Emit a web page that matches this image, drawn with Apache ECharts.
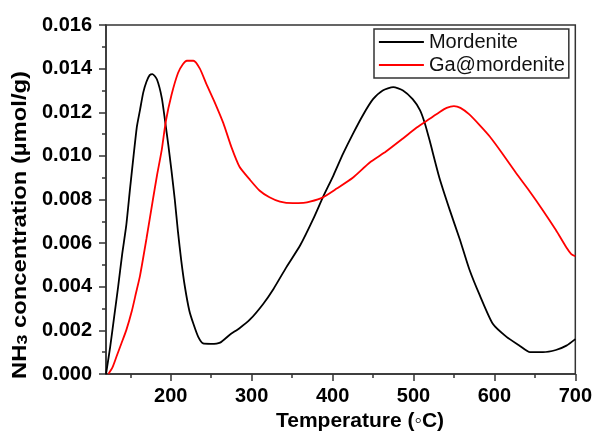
<!DOCTYPE html>
<html>
<head>
<meta charset="utf-8">
<script src="https://cdn.jsdelivr.net/npm/echarts@6/dist/echarts.min.js"></script>
<style>html,body{margin:0;padding:0;background:#fff}#c{width:595px;height:432px}</style>
</head>
<body>
<div id="c"></div>
<script>
const seriesNames = ['Mordenite', 'Ga@mordenite'];
const mordTemp = [120,125,130,135,140,145,150,158,162,166,170,174,177.5,183,189,193,197,201,205,209,213,217.5,223,228,234,240,250,261,273,285,298,314,327,343,360,376,388,401,413,425,438,450,462,475,487,499,508,514,520,532,545,557,569,582,598,615,631,644,660,676,689,700];
const mordConc = [0.0000,0.0012,0.0026,0.0040,0.0055,0.0068,0.0086,0.0113,0.0121,0.0129,0.0134,0.0137,0.01375,0.0135,0.01265,0.0116,0.0105,0.0093,0.0080,0.0065,0.0052,0.0040,0.0029,0.0023,0.0017,0.0014,0.00138,0.00144,0.0018,0.0021,0.0025,0.0032,0.0039,0.0049,0.0059,0.0071,0.0081,0.0091,0.0101,0.0110,0.0119,0.0126,0.0130,0.01315,0.0130,0.0126,0.0121,0.0115,0.0107,0.0090,0.0075,0.0062,0.0048,0.0036,0.0023,0.0017,0.0013,0.0010,0.0010,0.0011,0.0013,0.0016];
const gaTemp = [123,128,133,139,145,152,157,162,170,178,183,189,194,201,209,215,220,228,236,244,255,265,275,285,298,310,322,335,351,364,372,388,405,425,446,466,487,504,520,532,541,550,558,569,582,594,610,627,643,660,676,689,695,700];
const gaConc = [0.0000,0.0003,0.0008,0.0014,0.0020,0.0029,0.0037,0.0045,0.0062,0.0080,0.0091,0.0103,0.0116,0.0128,0.0138,0.0142,0.01436,0.01436,0.0140,0.0133,0.0124,0.0115,0.0104,0.0095,0.0089,0.0084,0.0081,0.0079,0.00783,0.00785,0.0079,0.0081,0.0085,0.0090,0.0097,0.0102,0.0108,0.0113,0.0117,0.0120,0.0122,0.01228,0.0122,0.0119,0.0114,0.0109,0.0101,0.0092,0.0084,0.0075,0.0066,0.0058,0.0055,0.0054];
const xMajorTicks = [200,300,400,500,600,700];
const xMinorTicks = [150,250,350,450,550,650];
const xTitle = 'Temperature (\u25E6C)';

const FONT = '"Liberation Sans", Arial, sans-serif';
const AX = '#333';
const pairs = (xs, ys) => xs.map((x, i) => [x, ys[i]]);

const chart = echarts.init(document.getElementById('c'), null, {renderer: 'canvas'});
chart.setOption({
  animation: false,
  backgroundColor: '#fff',
  grid: {left: 106, right: 18, top: 25, bottom: 58, show: true, borderColor: AX, borderWidth: 1.5, backgroundColor: 'transparent'},
  legend: {
    data: seriesNames,
    orient: 'vertical',
    left: 374, top: 29,
    itemWidth: 45, itemHeight: 20, itemGap: 3,
    padding: [3, 4, 3, 4],
    borderColor: AX, borderWidth: 1.5,
    backgroundColor: '#fff',
    itemStyle: {opacity: 0},
    lineStyle: {width: 1.8},
    textStyle: {fontFamily: FONT, fontSize: 20, color: '#111'}
  },
  xAxis: [{
    type: 'value', min: 120, max: 700,
    axisLine: {show: true, lineStyle: {color: AX, width: 1.5}},
    axisTick: {show: true, inside: false, length: 7, customValues: xMajorTicks, lineStyle: {color: AX, width: 1.5}},
    axisLabel: {customValues: xMajorTicks, margin: 12, fontFamily: FONT, fontSize: 20, fontWeight: 'bold', color: '#000'},
    splitLine: {show: false}
  }, {
    type: 'value', min: 120, max: 700, position: 'bottom',
    axisLine: {show: false},
    axisTick: {show: true, inside: false, length: 4, customValues: xMinorTicks, lineStyle: {color: AX, width: 1.5}},
    axisLabel: {show: false},
    splitLine: {show: false}
  }],
  yAxis: {
    type: 'value', min: 0, max: 0.016, interval: 0.002,
    axisLine: {show: true, lineStyle: {color: AX, width: 1.5}},
    axisTick: {show: true, inside: false, length: 7, lineStyle: {color: AX, width: 1.5}},
    minorTick: {show: true, splitNumber: 2, length: 4, lineStyle: {color: AX, width: 1.5}},
    axisLabel: {margin: 14, fontFamily: FONT, fontSize: 20, fontWeight: 'bold', color: '#000', formatter: v => v.toFixed(3)},
    splitLine: {show: false}
  },
  graphic: [{
    type: 'text', x: 360, y: 421,
    style: {text: xTitle, fontFamily: FONT, fontSize: 21, fontWeight: 'bold', fill: '#000', align: 'center', verticalAlign: 'middle'}
  }, {
    type: 'text', x: 20, y: 225, rotation: Math.PI / 2, scaleX: 1.19,
    style: {
      text: '{b|NH}{s|3}{b| concentration (\u00B5mol/g)}',
      align: 'center', verticalAlign: 'middle', fill: '#000',
      rich: {
        b: {fontFamily: FONT, fontSize: 20, fontWeight: 'bold', lineHeight: 20, verticalAlign: 'top', fill: '#000', color: '#000'},
        s: {fontFamily: FONT, fontSize: 15, fontWeight: 'bold', lineHeight: 10, verticalAlign: 'bottom', fill: '#000', color: '#000'}
      }
    }
  }],
  series: [{
    name: seriesNames[0], type: 'line', data: pairs(mordTemp, mordConc),
    symbol: 'none', smooth: 0.2, lineStyle: {color: '#000', width: 1.8}, itemStyle: {color: '#000'}
  }, {
    name: seriesNames[1], type: 'line', data: pairs(gaTemp, gaConc),
    symbol: 'none', smooth: 0.2, lineStyle: {color: '#ff0000', width: 1.8}, itemStyle: {color: '#ff0000'}
  }]
});
</script>
</body>
</html>
